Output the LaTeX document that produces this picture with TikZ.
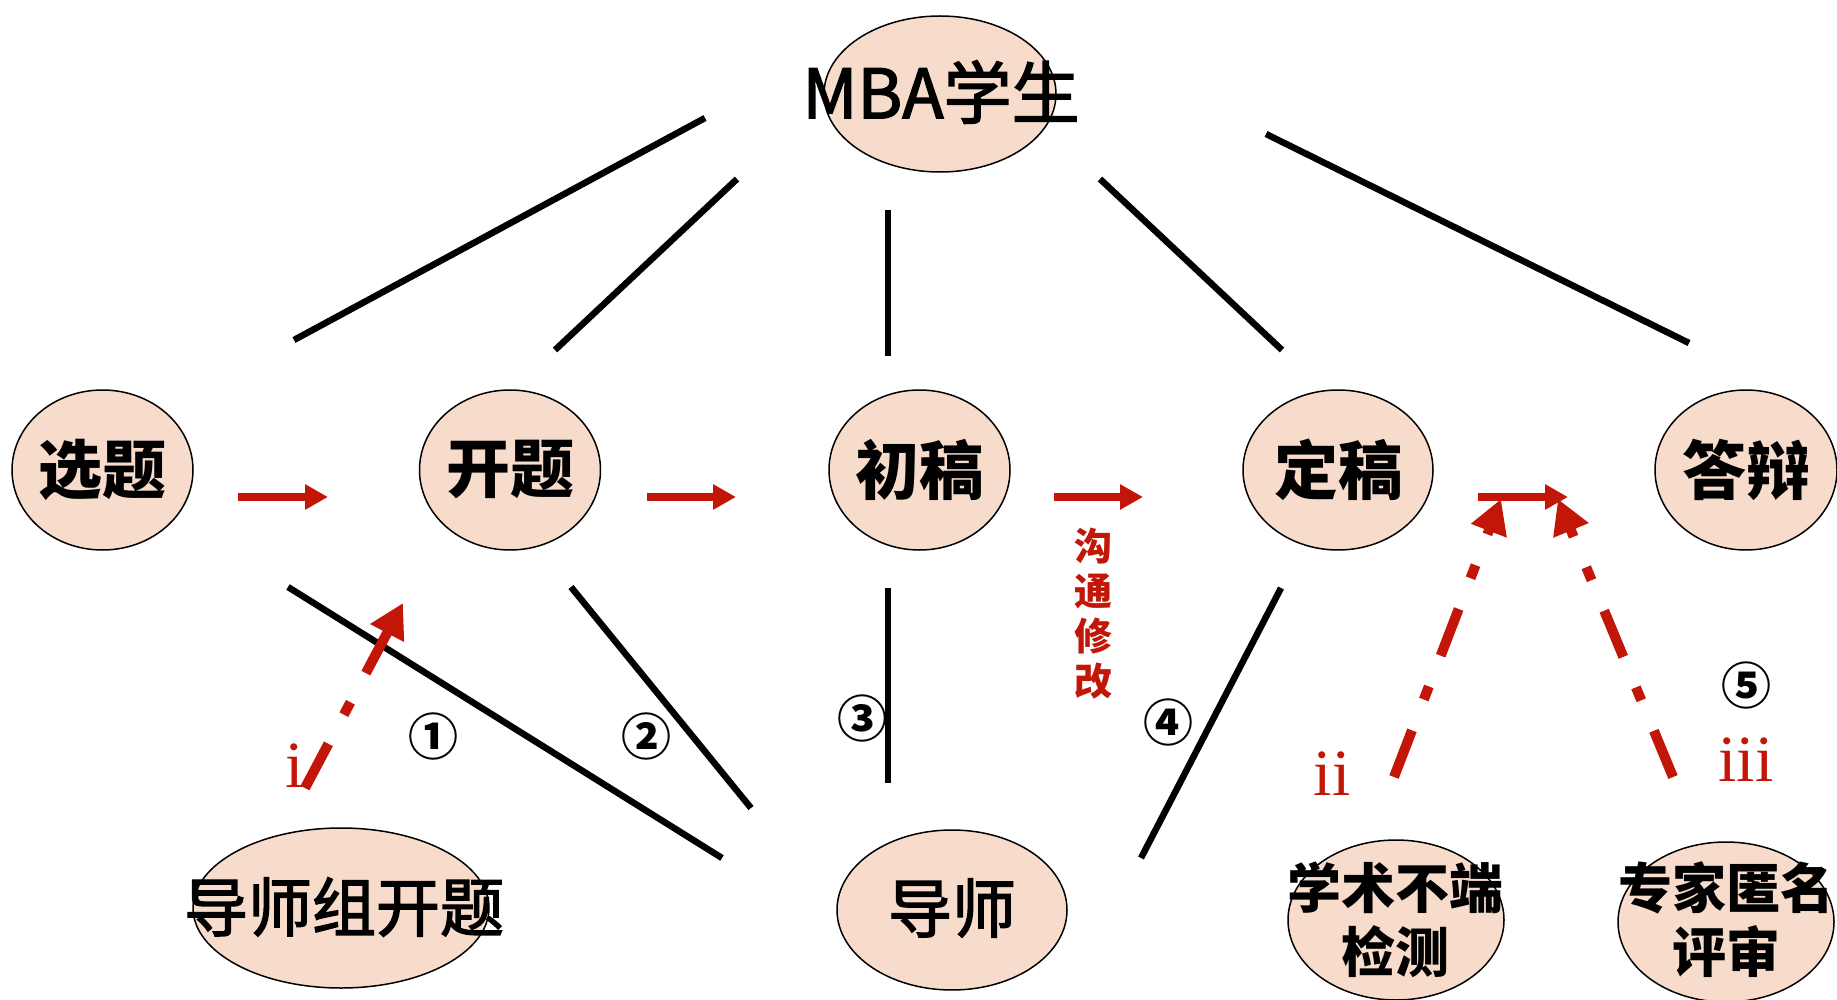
\documentclass[tikz,border=0pt]{standalone}
\usepackage{fontspec}
\newfontfamily\cjk{Noto Sans CJK SC}
\newfontfamily\cjkm[FakeBold=2.2]{Noto Sans CJK SC}
\setmainfont{Liberation Serif}
\usetikzlibrary{shapes.geometric,arrows.meta}
\definecolor{peach}{RGB}{248,220,203}
\definecolor{dred}{RGB}{194,22,8}
\begin{document}
\begin{tikzpicture}[x=1pt,y=-1pt,
  bub/.style={ellipse,draw=black,line width=1.5pt,fill=peach,inner sep=0pt},
  lnk/.style={line width=6.5pt,black},
  flow/.style={dred,line width=8pt,-{Triangle[length=23pt,width=24pt]}},
  dd/.style={dred,line width=10pt,dash pattern=on 50pt off 33pt on 14pt off 33pt,-{Triangle[length=34pt,width=36pt]}},
  txt/.style={inner sep=0pt,align=center},
  rowtxt/.style={txt,font=\cjk\bfseries\fontsize{64}{70}\selectfont},
  midtxt/.style={txt,font=\cjkm\fontsize{64}{70}\selectfont},
  circ/.style={txt,font=\cjk\bfseries\fontsize{50}{50}\selectfont},
  rom/.style={txt,text=dred,font=\fontsize{66}{66}\selectfont},
]
\useasboundingbox (0,0) rectangle (1837,1000);

% ellipses
\node[bub,minimum width=232pt,minimum height=156pt] (eMBA) at (940,94) {};
\node[bub,minimum width=181pt,minimum height=160pt] (e1) at (102.5,470) {};
\node[bub,minimum width=181pt,minimum height=160pt] (e2) at (510,470) {};
\node[bub,minimum width=181pt,minimum height=160pt] (e3) at (919.5,470) {};
\node[bub,minimum width=190pt,minimum height=160pt] (e4) at (1338,470) {};
\node[bub,minimum width=182pt,minimum height=160pt] (e5) at (1746,470) {};
\node[bub,minimum width=296pt,minimum height=160pt] (eG) at (341,908) {};
\node[bub,minimum width=230pt,minimum height=160pt] (eT) at (952,910) {};
\node[bub,minimum width=216pt,minimum height=160pt] (eX) at (1396,920) {};
\node[bub,minimum width=216pt,minimum height=160pt] (eZ) at (1726,922) {};

% texts
\node[txt,font=\cjkm\fontsize{68}{70}\selectfont] (mba) at (941,92) {MBA学生};
\node[rowtxt] (t1) at (102.5,470) {选题};
\node[rowtxt] (t2) at (510,470) {开题};
\node[rowtxt] (t3) at (919.5,470) {初稿};
\node[rowtxt] (t4) at (1338,470) {定稿};
\node[rowtxt] (t5) at (1746,470) {答辩};
\node[midtxt] (tG) at (344,907) {导师组开题};
\node[midtxt] (tT) at (952,908) {导师};
\node[txt,font=\cjk\bfseries\fontsize{54}{64}\selectfont] (tX) at (1395,920) {学术不端\\检测};
\node[txt,font=\cjk\bfseries\fontsize{54}{64}\selectfont] (tZ) at (1726,920) {专家匿名\\评审};
\node[txt,text=dred,font=\cjk\bfseries\fontsize{38}{45}\selectfont] (gt) at (1093,614) {沟\\通\\修\\改};

% circled numbers
\node[circ] (n1) at (433,736) {①};
\node[circ] (n2) at (646,736) {②};
\node[circ] (n3) at (862,718) {③};
\node[circ] (n4) at (1168,722) {④};
\node[circ] (n5) at (1746,685) {⑤};

% roman labels
\node[rom] (r1) at (295,766) {i};
\node[rom] (r2) at (1332,774) {ii};
\node[rom] (r3) at (1746,760) {iii};

% black links
\coordinate (a1) at (705,118); \coordinate (b1) at (294,340);
\coordinate (a2) at (737,179); \coordinate (b2) at (555,350);
\coordinate (a3) at (888,210); \coordinate (b3) at (888,356);
\coordinate (a4) at (1100,179); \coordinate (b4) at (1282,350);
\coordinate (a5) at (1266,134); \coordinate (b5) at (1689,343);
\coordinate (c1) at (288,587); \coordinate (d1) at (722,858);
\coordinate (c2) at (571,587); \coordinate (d2) at (751,808);
\coordinate (c3) at (888,588); \coordinate (d3) at (888,783);
\coordinate (c4) at (1281,588); \coordinate (d4) at (1141,858);
\foreach \i in {1,...,5} {\draw[lnk] (a\i) -- (b\i);}
\foreach \i in {1,...,4} {\draw[lnk] (c\i) -- (d\i);}

% red flow arrows
\coordinate (f1s) at (238,497); \coordinate (f1e) at (328,497);
\coordinate (f2s) at (647,497); \coordinate (f2e) at (736,497);
\coordinate (f3s) at (1054,497); \coordinate (f3e) at (1143,497);
\coordinate (f4s) at (1478,497); \coordinate (f4e) at (1568,497);
\foreach \i in {1,...,4} {\draw[flow] (f\i s) -- (f\i e);}

% dash-dot arrows
\coordinate (g1s) at (305,788); \coordinate (g1e) at (403,603);
\coordinate (g2s) at (1394,777); \coordinate (g2e) at (1501,499);
\coordinate (g3s) at (1673,777); \coordinate (g3e) at (1558,499);
\foreach \i in {1,2,3} {\draw[dd] (g\i s) -- (g\i e);}
\end{tikzpicture}
\end{document}
